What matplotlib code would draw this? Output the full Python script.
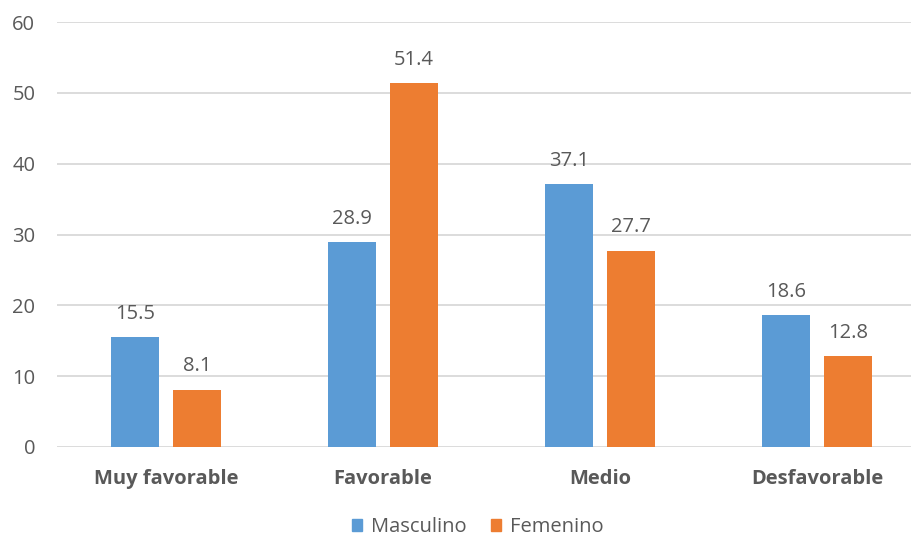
import matplotlib
matplotlib.use("Agg")
import matplotlib.pyplot as plt
import numpy as np
from matplotlib.patches import Patch

categories = ["Muy favorable", "Favorable", "Medio", "Desfavorable"]
masculino = [15.5, 28.9, 37.1, 18.6]
femenino = [8.1, 51.4, 27.7, 12.8]
series_names = ["Masculino", "Femenino"]
y_ticks = [0, 10, 20, 30, 40, 50, 60]

BLUE = "#5B9BD5"
ORANGE = "#ED7D31"
TEXT = "#595959"
GRID = "#D9D9D9"
FS = 14.5

plt.rcParams["font.family"] = ["Open Sans", "DejaVu Sans"]

W, H = 912, 539
fig = plt.figure(figsize=(W / 100, H / 100), dpi=100)
left, right = 57.5 / W, 925.5 / W
bottom, top = (H - 447) / H, (H - 22) / H
ax = fig.add_axes([left, bottom, right - left, top - bottom])

x = np.arange(len(categories))
bw = 0.221
off = 0.143
b1 = ax.bar(x - off, masculino, bw, color=BLUE, zorder=3)
b2 = ax.bar(x + off, femenino, bw, color=ORANGE, zorder=3)

for bars, vals in ((b1, masculino), (b2, femenino)):
    for rect, v in zip(bars, vals):
        ax.text(rect.get_x() + rect.get_width() / 2, v + 3.3, f"{v:.1f}",
                ha="center", va="center", fontsize=FS, color=TEXT)

ax.set_xlim(-0.5, len(categories) - 0.5)
ax.set_ylim(0, 60)
ax.set_yticks(y_ticks)
ax.set_yticklabels([str(t) for t in y_ticks])
ax.set_xticks(x)
ax.set_xticklabels(categories, fontweight="bold")
ax.tick_params(axis="y", length=0, pad=16, labelsize=FS, labelcolor=TEXT)
ax.tick_params(axis="x", length=0, pad=16, labelsize=FS, labelcolor=TEXT)
ax.yaxis.grid(True, color=GRID, linewidth=1.3, zorder=0)
ax.set_axisbelow(True)
for s in ax.spines.values():
    s.set_visible(False)

handles = [Patch(color=BLUE), Patch(color=ORANGE)]
fig.legend(handles, series_names, loc="center", ncol=2,
           bbox_to_anchor=(478 / W, 1 - 527 / H), frameon=False,
           fontsize=FS, labelcolor=TEXT, handlelength=0.5, handleheight=0.5,
           handletextpad=0.45, columnspacing=1.2, borderpad=0.2)

fig.savefig("out.png", dpi=100)
